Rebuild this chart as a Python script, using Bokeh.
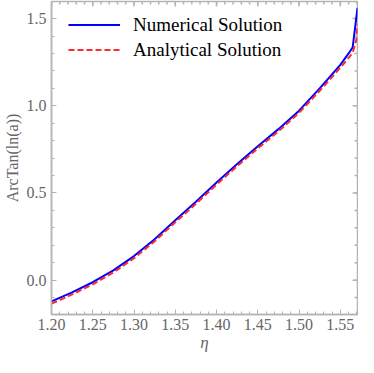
import math
from bokeh.plotting import figure
from bokeh.models import (LinearAxis, FixedTicker, PrintfTickFormatter, Legend, LegendItem)
from bokeh.embed import file_html
from bokeh.resources import INLINE

# data
eta_num = [1.200, 1.225, 1.250, 1.275, 1.300, 1.325, 1.350, 1.375, 1.400, 1.425,
           1.450, 1.475, 1.500, 1.525, 1.550, 1.560, 1.565, 1.5708]
val_num = [-0.122, -0.070, -0.012, 0.056, 0.138, 0.235, 0.344, 0.450, 0.560, 0.666,
           0.768, 0.866, 0.972, 1.100, 1.235, 1.300, 1.336, 1.562]
eta_ana = [1.200, 1.225, 1.250, 1.275, 1.300, 1.325, 1.350, 1.375, 1.400, 1.425,
           1.450, 1.475, 1.500, 1.525, 1.550, 1.560, 1.565, 1.5695, 1.5708]
val_ana = [-0.135, -0.082, -0.024, 0.044, 0.126, 0.223, 0.332, 0.438, 0.548, 0.654,
           0.756, 0.854, 0.960, 1.086, 1.218, 1.275, 1.305, 1.380, 1.470]
x_ticks = [1.20, 1.25, 1.30, 1.35, 1.40, 1.45, 1.50, 1.55]
x_minor = [round(1.20 + 0.01 * i, 2) for i in range(0, 38)]
y_ticks = [0.0, 0.5, 1.0, 1.5]
y_minor = [round(-0.1 + 0.1 * i, 1) for i in range(0, 17)]

FONT = "Liberation Serif"
GRAY = "#666666"
FRAME = "#b4b4b4"
X0, X1 = 1.2, math.pi / 2
Y0, Y1 = -0.197, 1.598

p = figure(width=358, height=357, x_range=(X0, X1), y_range=(Y0, Y1),
           output_backend="svg", toolbar_location=None, x_axis_location=None,
           y_axis_location=None, min_border_left=42, min_border_right=1,
           min_border_top=1, min_border_bottom=43)
p.grid.visible = False
p.outline_line_color = FRAME
p.outline_line_width = 1.5

def style(ax):
    ax.axis_line_color = FRAME
    ax.axis_line_width = 1.5
    ax.major_tick_line_color = FRAME
    ax.minor_tick_line_color = FRAME
    ax.major_tick_in = 5
    ax.major_tick_out = 0
    ax.minor_tick_in = 3
    ax.minor_tick_out = 0
    ax.major_label_text_font = FONT
    ax.major_label_text_font_size = "16px"
    ax.major_label_text_color = GRAY
    ax.major_label_text_line_height = 1.0
    ax.axis_label_text_font = FONT
    ax.axis_label_text_color = GRAY
    ax.axis_label_text_line_height = 1.0

xb = LinearAxis(ticker=FixedTicker(ticks=x_ticks, minor_ticks=x_minor),
                formatter=PrintfTickFormatter(format="%.2f"), axis_label="η")
style(xb)
xb.major_label_standoff = 4
xb.axis_label_standoff = 0
xb.axis_label_text_font_size = "17px"
xb.axis_label_text_font_style = "italic"
p.add_layout(xb, "below")

yl = LinearAxis(ticker=FixedTicker(ticks=y_ticks, minor_ticks=y_minor),
                formatter=PrintfTickFormatter(format="%.1f"), axis_label="ArcTan(ln(a))")
style(yl)
yl.major_label_standoff = 5
yl.axis_label_standoff = 3
yl.axis_label_text_font_size = "16px"
yl.axis_label_text_font_style = "normal"
p.add_layout(yl, "left")

# inward ticks on the top and right edges of the frame (centred on the edge, half clipped)
p.scatter(x=x_ticks, y=[Y1] * len(x_ticks), marker="dash", angle=math.pi / 2,
          size=10, line_color=FRAME, line_width=1.5)
p.scatter(x=x_minor, y=[Y1] * len(x_minor), marker="dash", angle=math.pi / 2,
          size=6, line_color=FRAME, line_width=1.5)
p.scatter(x=[X1] * len(y_ticks), y=y_ticks, marker="dash",
          size=10, line_color=FRAME, line_width=1.5)
p.scatter(x=[X1] * len(y_minor), y=y_minor, marker="dash",
          size=6, line_color=FRAME, line_width=1.5)

r1 = p.line(eta_num, val_num, line_color="#0000ff", line_width=2)
r2 = p.line(eta_ana, val_ana, line_color="#ff2a2a", line_width=2, line_dash="6 3")

legend = Legend(items=[LegendItem(label="Numerical Solution", renderers=[r1]),
                       LegendItem(label="Analytical Solution", renderers=[r2])],
                location=(17, 252))
legend.background_fill_alpha = 0
legend.border_line_color = None
legend.label_text_font = FONT
legend.label_text_font_size = "19px"
legend.label_text_color = "black"
legend.glyph_width = 52
legend.glyph_height = 25
legend.label_height = 25
legend.label_standoff = 13
legend.spacing = 0
legend.padding = 0
legend.margin = 0
p.add_layout(legend, "center")

open("out.html", "w").write(file_html(p, INLINE))
